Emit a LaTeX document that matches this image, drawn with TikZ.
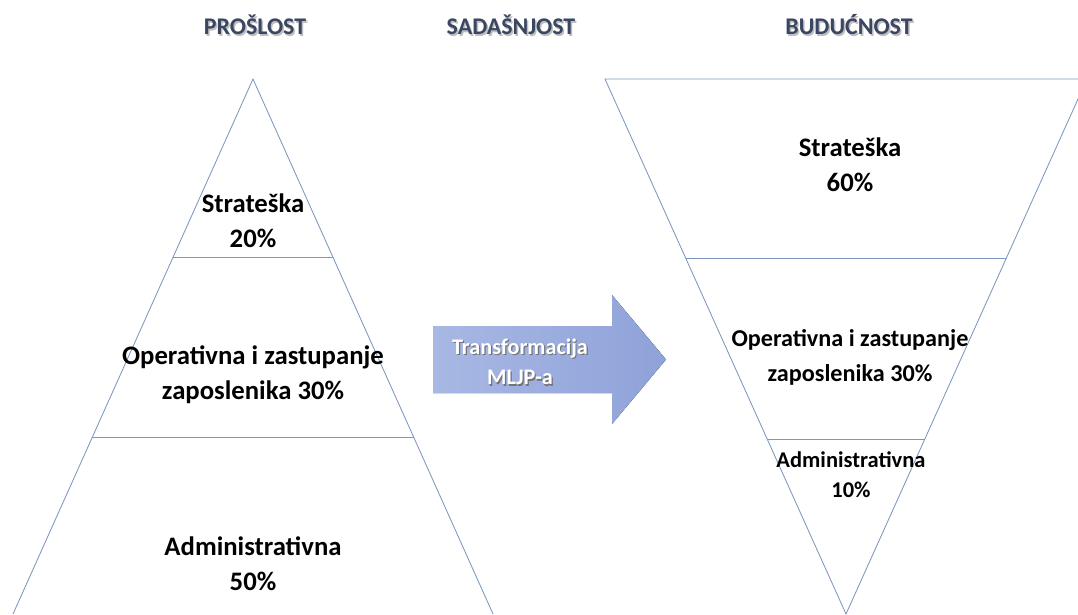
\documentclass[tikz,border=0pt]{standalone}
\usepackage{fontspec}
\setmainfont{Carlito}
\usetikzlibrary{calc}

\definecolor{edgeblue}{RGB}{125,150,190}
\definecolor{titleblue}{RGB}{58,70,98}
\definecolor{arrowlight}{RGB}{168,184,228}
\definecolor{arrowdark}{RGB}{143,162,217}

\begin{document}
\begin{tikzpicture}[x=0.025cm,y=-0.025cm,
  side/.style={edgeblue,line width=0.6pt},
  title/.style={font=\bfseries\fontsize{17}{20}\selectfont,text=titleblue},
  titleshadow/.style={font=\bfseries\fontsize{17}{20}\selectfont,text=black!25},
  lbl/.style={font=\bfseries\fontsize{19}{25}\selectfont,align=center},
  lblsmall/.style={font=\bfseries\fontsize{17.2}{25}\selectfont,align=center},
  lbltiny/.style={font=\bfseries\fontsize{16}{21.5}\selectfont,align=center},
  arrowtext/.style={font=\bfseries\fontsize{15.8}{21.5}\selectfont,align=center,text=white},
  arrowshadow/.style={font=\bfseries\fontsize{15.8}{21.5}\selectfont,align=center,text=black!55}]

  \useasboundingbox (0,0) rectangle (1078,614);
  \clip (0,0) rectangle (1078,614);

  % titles
  \node[titleshadow] (pasts) at (256.5,27) {PROŠLOST};
  \node[title] (past) at (255,25) {PROŠLOST};
  \node[titleshadow] (nows) at (512.5,27) {SADAŠNJOST};
  \node[title] (now) at (511,25) {SADAŠNJOST};
  \node[titleshadow] (futs) at (850.5,27) {BUDUĆNOST};
  \node[title] (fut) at (849,25) {BUDUĆNOST};

  % pyramid
  \coordinate (Ltop) at (253,79);
  \coordinate (Lbl) at (13,614);
  \coordinate (Lbr) at (493,614);
  \draw[side] (Lbl) -- (Ltop) -- (Lbr);
  \draw[side] ($(Ltop)!0.3333!(Lbl)$) -- ($(Ltop)!0.3333!(Lbr)$);
  \draw[side] ($(Ltop)!0.6698!(Lbl)$) -- ($(Ltop)!0.6698!(Lbr)$);

  \node[lbl] (s20) at (253,221) {Strateška\\20\%};
  \node[lbl] (o30) at (253,375) {Operativna i zastupanje\\zaposlenika 30\%};
  \node[lbl] (a50) at (253,564) {Administrativna\\50\%};

  % inverted pyramid
  \coordinate (Rbot) at (846,614);
  \coordinate (Rtl) at (605,79);
  \coordinate (Rtr) at (1087,79);
  \draw[side] (Rtl) -- (Rbot) -- (Rtr) -- cycle;
  \draw[side] ($(Rbot)!0.6654!(Rtl)$) -- ($(Rbot)!0.6654!(Rtr)$);
  \draw[side] ($(Rbot)!0.3271!(Rtl)$) -- ($(Rbot)!0.3271!(Rtr)$);

  \node[lbl] (s60) at (850,165) {Strateška\\60\%};
  \node[lblsmall] (o30b) at (850,357) {Operativna i zastupanje\\zaposlenika 30\%};
  \node[lbltiny] (a10) at (851,475) {Administrativna\\10\%};

  % arrow
  \fill[left color=arrowlight,right color=arrowdark]
    (433,326) -- (612,326) -- (612,295) -- (666,359.5) -- (612,424)
    -- (612,393) -- (433,393) -- cycle;
  \node[arrowshadow] (trs) at (521.2,363.2) {Transformacija\\MLJP-a};
  \node[arrowtext] (tr) at (520,362) {Transformacija\\MLJP-a};

\end{tikzpicture}
\end{document}
